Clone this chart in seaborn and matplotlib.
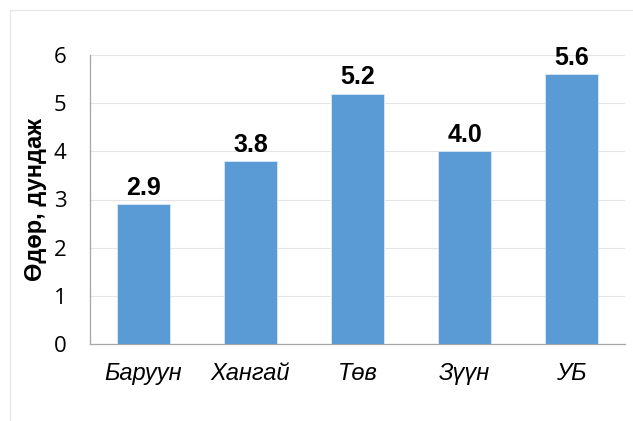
import pandas as pd
import seaborn as sns
import matplotlib.pyplot as plt
from matplotlib.patches import Rectangle

# data
regions = ['Баруун', 'Хангай', 'Төв', 'Зүүн', 'УБ']
days = [2.9, 3.8, 5.2, 4.0, 5.6]
df = pd.DataFrame({'region': regions, 'days': days})

sns.set_style('white')
plt.rcParams['font.family'] = ['Liberation Sans', 'DejaVu Sans']
plt.rcParams['text.color'] = 'black'
plt.rcParams['xtick.color'] = 'black'
plt.rcParams['ytick.color'] = 'black'
plt.rcParams['axes.labelcolor'] = 'black'

fig = plt.figure(figsize=(6.33, 4.21), dpi=100)
ax = fig.add_axes([90 / 633, 1 - 344 / 421, 535 / 633, (344 - 55) / 421])

sns.barplot(x='region', y='days', data=df, ax=ax, color='#5B9BD5',
            saturation=1, width=0.5, edgecolor='#dbe8f5', linewidth=0.6, zorder=3)

for p, v in zip(ax.patches, days):
    ax.annotate(f'{v:.1f}', (p.get_x() + p.get_width() / 2, v),
                xytext=(0, 3), textcoords='offset points',
                ha='center', va='bottom', fontsize=18, fontweight='bold', zorder=4)

ax.set_ylim(0, 6)
ax.set_xlim(-0.5, 4.5)
ax.set_yticks(range(0, 7))
ax.yaxis.grid(True, color='#e4e4e4', linewidth=0.8, zorder=0)
ax.set_axisbelow(True)

for s in ['top', 'right']:
    ax.spines[s].set_visible(False)
for s in ['left', 'bottom']:
    ax.spines[s].set_color('#a6a6a6')
    ax.spines[s].set_linewidth(0.9)

# category boundary ticks on x
ax.set_xticks([i - 0.5 for i in range(6)], minor=True)
ax.tick_params(axis='x', which='major', length=0, labelsize=17, pad=13)
ax.tick_params(axis='x', which='minor', length=6, color='#a6a6a6', width=0.9)
ax.tick_params(axis='y', length=6, color='#a6a6a6', width=0.9, labelsize=16,
               labelcolor='black', pad=11)
ax.tick_params(axis='x', labelcolor='black')
for lbl in ax.get_xticklabels():
    lbl.set_fontstyle('italic')
for lbl in ax.get_yticklabels():
    lbl.set_family(['Open Sans', 'DejaVu Sans'])

ax.set_xlabel('')
ax.set_ylabel('Өдөр, дундаж', fontsize=17, fontweight='bold', labelpad=5)

# outer chart frame
fig.add_artist(Rectangle((10 / 633, -0.05), 1.0, 1 - 10 / 421 + 0.05,
                         transform=fig.transFigure, fill=False,
                         edgecolor='#e6e6e6', linewidth=1))

fig.savefig('out.png', dpi=100)
